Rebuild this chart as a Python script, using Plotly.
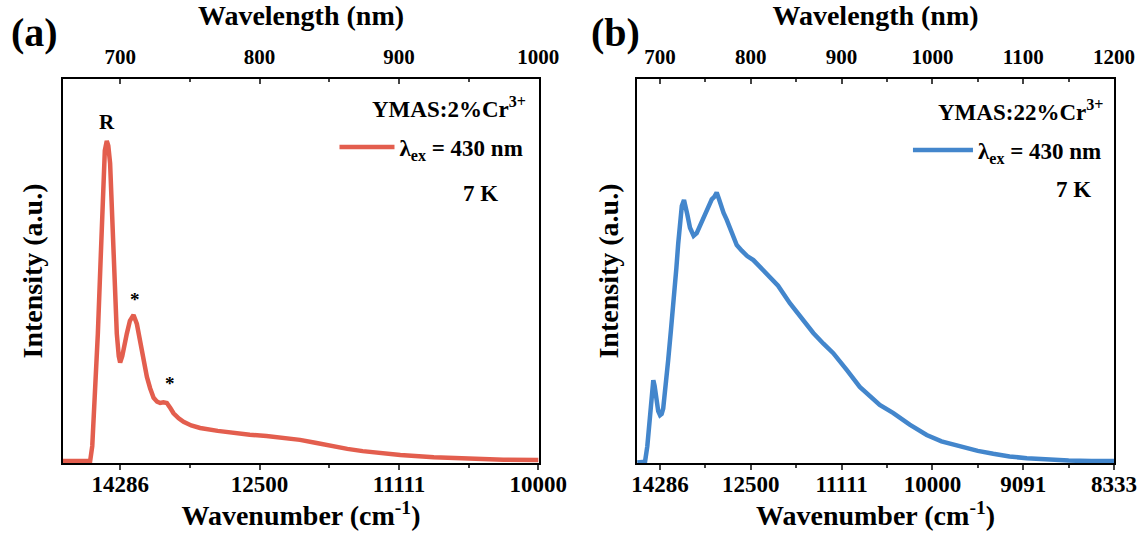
import plotly.graph_objects as go

# ---------------- data ----------------
wl_a = [659, 670, 678.5, 680, 682, 684, 686, 688, 689, 690.4, 691.5, 692.8, 694, 695.2, 696.5, 697.6,
        699, 700, 701.5, 703, 704.8, 707, 709.6, 712, 714.4, 717, 719.2, 721.5, 724, 726.5, 728.7,
        731, 733.5, 736, 738.3, 742, 745.5, 751, 757.4, 770, 781, 793, 805, 817, 829, 840, 851,
        863, 874, 887, 901, 925, 951, 975, 1000]
int_a = [0.003, 0.003, 0.004, 0.05, 0.2, 0.4, 0.63, 0.9, 0.97, 1.0, 0.985, 0.93, 0.8, 0.63, 0.5, 0.4,
         0.33, 0.31, 0.33, 0.37, 0.40, 0.44, 0.458, 0.43, 0.37, 0.31, 0.265, 0.23, 0.2, 0.188, 0.184,
         0.186, 0.184, 0.168, 0.152, 0.136, 0.125, 0.114, 0.106, 0.097, 0.09, 0.085, 0.081, 0.076, 0.069,
         0.06, 0.05, 0.041, 0.034, 0.027, 0.022, 0.015, 0.01, 0.007, 0.006]

wl_b = [675, 683.5, 686, 689, 691, 692.6, 694, 696, 698, 700, 701.8, 703.5, 705, 707, 709, 712, 714,
        716.5, 718, 720, 722, 724, 726.4, 728, 730, 733, 737, 740.4, 745, 751.4, 757, 760, 762.4, 765,
        767, 770, 773.4, 779, 784.5, 790, 796, 802.8, 810, 817.5, 830, 843, 856, 868.8, 880, 890.8,
        905.6, 920, 942, 957, 975, 993.7, 1010, 1030, 1050, 1067, 1085, 1104, 1130, 1150, 1175, 1200]
int_b = [0.0, 0.003, 0.06, 0.19, 0.28, 0.305, 0.285, 0.23, 0.19, 0.175, 0.18, 0.2, 0.24, 0.31, 0.38,
         0.49, 0.56, 0.63, 0.72, 0.81, 0.89, 0.95, 0.973, 0.955, 0.92, 0.87, 0.84, 0.85, 0.885, 0.935,
         0.975, 0.985, 1.0, 0.975, 0.95, 0.925, 0.9, 0.855, 0.806, 0.785, 0.765, 0.75, 0.725, 0.7,
         0.655, 0.59, 0.535, 0.48, 0.44, 0.405, 0.343, 0.28, 0.213, 0.183, 0.14, 0.102, 0.078, 0.059,
         0.043, 0.032, 0.022, 0.016, 0.01, 0.007, 0.005, 0.005]

ticks_wl_a = [700, 800, 900, 1000]
ticks_wn_a = ["14286", "12500", "11111", "10000"]
ticks_wl_b = [700, 800, 900, 1000, 1100, 1200]
ticks_wn_b = ["14286", "12500", "11111", "10000", "9091", "8333"]

peak_labels_x = [690.4, 710.8, 736]
peak_labels_y = [1.059, 0.505, 0.246]
peak_labels_t = ["R", "*", "*"]

# ---------------- figure ----------------
FONT = "Liberation Serif"
RED = "#E35E4E"
BLUE = "#4386CC"

fig = go.Figure()
fig.add_trace(go.Scatter(x=wl_a, y=int_a, mode="lines", xaxis="x", yaxis="y",
                         line=dict(color=RED, width=4.5), name="λ<sub>ex</sub> = 430 nm",
                         legend="legend", hoverinfo="skip"))
fig.add_trace(go.Scatter(x=wl_b, y=int_b, mode="lines", xaxis="x3", yaxis="y2",
                         line=dict(color=BLUE, width=4.5), name="λ<sub>ex</sub> = 430 nm",
                         legend="legend2", hoverinfo="skip"))

tickfont_b = dict(family=FONT, size=23, color="black", weight="bold")
tickfont_t = dict(family=FONT, size=21, color="black", weight="bold")
titlefont = dict(family=FONT, size=28, color="black", weight="bold")

def bottom_axis(dom, rng, tv, tt, anchor):
    return dict(domain=dom, range=rng, anchor=anchor, side="bottom", automargin=False,
                tickmode="array", tickvals=tv, ticktext=tt, ticks="outside", ticklen=5, tickwidth=2,
                minor=dict(ticks="outside", ticklen=3, tickwidth=2, dtick=50, tick0=0),
                ticklabelstandoff=-6,
                showline=True, linecolor="black", linewidth=2, mirror=False,
                showgrid=False, zeroline=False, tickfont=tickfont_b,
                title=dict(text="Wavenumber (cm<sup>-1</sup>)", font=titlefont, standoff=9))

def top_axis(rng, tv, overlay, anchor):
    return dict(range=rng, overlaying=overlay, anchor=anchor, side="top", automargin=False,
                tickmode="array", tickvals=tv, ticktext=[str(v) for v in tv],
                ticks="inside", ticklen=5, tickwidth=2,
                minor=dict(ticks="inside", ticklen=3, tickwidth=2, dtick=50, tick0=0),
                ticklabelstandoff=5,
                showline=True, linecolor="black", linewidth=2,
                showgrid=False, zeroline=False, tickfont=tickfont_t,
                title=dict(text="Wavelength (nm)", font=titlefont, standoff=12))

def y_axis(dom_x_anchor, rng, standoff):
    return dict(range=rng, anchor=dom_x_anchor, showticklabels=False, ticks="", automargin=False,
                showline=True, linecolor="black", linewidth=2, mirror=True,
                showgrid=False, zeroline=False,
                title=dict(text="Intensity (a.u.)", font=dict(family=FONT, size=28, color="black", weight="bold"),
                           standoff=standoff))

legfont = dict(family=FONT, size=23, color="black", weight="bold")

fig.update_layout(
    width=1141, height=540,
    margin=dict(l=63, r=27, t=79, b=77),
    paper_bgcolor="white", plot_bgcolor="white",
    xaxis=bottom_axis([0, 0.4529], [659, 1000.5], ticks_wl_a, ticks_wn_a, "y"),
    xaxis2=top_axis([659, 1000.5], ticks_wl_a, "x", "y"),
    xaxis3=bottom_axis([0.5462, 1.0], [674.7, 1200], ticks_wl_b, ticks_wn_b, "y2"),
    xaxis4=top_axis([674.7, 1200], ticks_wl_b, "x3", "y2"),
    yaxis=y_axis("x", [-0.003, 1.193], 10),
    yaxis2=y_axis("x3", [-0.002, 1.421], 8),
    legend=dict(x=0.4429, y=0.823, xanchor="right", yanchor="middle", font=legfont,
                bgcolor="rgba(0,0,0,0)", itemwidth=55, tracegroupgap=0),
    legend2=dict(x=0.9933, y=0.815, xanchor="right", yanchor="middle", font=legfont,
                 bgcolor="rgba(0,0,0,0)", itemwidth=60, tracegroupgap=0),
    showlegend=True,
)

# ensure top axes render
fig.add_trace(go.Scatter(x=[None], y=[None], xaxis="x2", yaxis="y", showlegend=False, hoverinfo="skip"))
fig.add_trace(go.Scatter(x=[None], y=[None], xaxis="x4", yaxis="y2", showlegend=False, hoverinfo="skip"))

ann = []
for xv, yv, t in zip(peak_labels_x, peak_labels_y, peak_labels_t):
    ann.append(dict(x=xv, y=yv, xref="x", yref="y", text=t, showarrow=False,
                    font=dict(family=FONT, size=21 if t == "R" else 19, color="black", weight="bold")))
ann += [
    dict(x=0.4429, y=0.927, xref="paper", yref="paper", xanchor="right", yanchor="middle",
         text="YMAS:2%Cr<sup>3+</sup>", showarrow=False, font=legfont),
    dict(x=0.3977, y=0.703, xref="paper", yref="paper", xanchor="center", yanchor="middle",
         text="7 K", showarrow=False, font=legfont),
    dict(x=0.9914, y=0.919, xref="paper", yref="paper", xanchor="right", yanchor="middle",
         text="YMAS:22%Cr<sup>3+</sup>", showarrow=False, font=legfont),
    dict(x=0.961, y=0.711, xref="paper", yref="paper", xanchor="center", yanchor="middle",
         text="7 K", showarrow=False, font=legfont),
    dict(x=-0.051, y=1.122, xref="paper", yref="paper", xanchor="left", yanchor="middle",
         text="(a)", showarrow=False, font=dict(family=FONT, size=40, color="black", weight="bold")),
    dict(x=0.5005, y=1.122, xref="paper", yref="paper", xanchor="left", yanchor="middle",
         text="(b)", showarrow=False, font=dict(family=FONT, size=40, color="black", weight="bold")),
]
fig.update_layout(annotations=ann)

fig.write_html("out.html", config={"displayModeBar": False},
               post_script="document.body.style.margin='0';document.body.style.overflow='hidden';")
